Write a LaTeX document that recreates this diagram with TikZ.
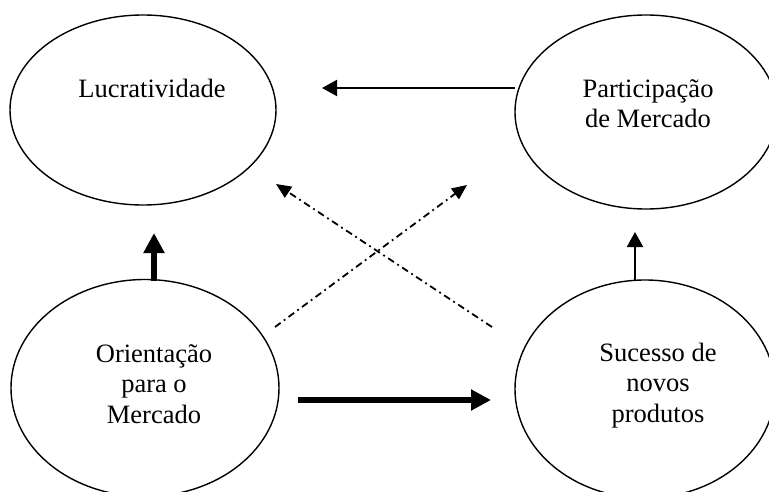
\documentclass[tikz,border=0pt]{standalone}
\usepackage{fontspec}
\setmainfont{Liberation Serif}
\usetikzlibrary{arrows.meta,shapes.geometric}

\begin{document}
\begin{tikzpicture}[x=1pt,y=-1pt,
  bubble/.style={draw, ellipse, line width=1.4pt, inner sep=0pt},
  label/.style={font=\fontsize{26.5}{30.5}\selectfont, align=center, anchor=base, inner sep=0pt},
  thin/.style={line width=2pt, -{Triangle[length=15pt,width=16pt]}},
  thick/.style={line width=6pt, -{Triangle[length=20pt,width=20pt]}},
  dotdash/.style={line width=1.8pt, dash pattern=on 7pt off 4pt on 1.8pt off 4pt,
                  -{Triangle[length=15pt,width=13pt]}}
]
\useasboundingbox (0,0) rectangle (769,492);
\clip (0,0) rectangle (769,492);

% the four constructs
\node[bubble, minimum width=266pt, minimum height=190pt] (lucro) at (143,110) {};
\node[bubble, minimum width=262pt, minimum height=194pt] (part)  at (646,112) {};
\node[bubble, minimum width=268pt, minimum height=217pt] (orient) at (145,388) {};
\node[bubble, minimum width=260pt, minimum height=218pt] (suc)   at (645,389) {};

% labels, placed by the baseline of their last line
\node[label] (lucroT)  at (152,98)  {Lucratividade};
\node[label] (partT)   at (648,128) {Participação\\de Mercado};
\node[label] (orientT) at (154,423) {Orientação\\para o\\Mercado};
\node[label] (sucT)    at (658,422) {Sucesso de\\novos\\produtos};

% arrow end points
\coordinate (partOut)   at (515,88);
\coordinate (lucroIn)   at (322,88);
\coordinate (orientTop) at (154,281);
\coordinate (lucroBot)  at (154,233);
\coordinate (sucTop)    at (635,281);
\coordinate (partBot)   at (635,232);
\coordinate (orientOut) at (298,400);
\coordinate (sucIn)     at (491,400);
\coordinate (crossA)    at (275,327);
\coordinate (crossAEnd) at (467,185);
\coordinate (crossB)    at (492,327);
\coordinate (crossBEnd) at (276,184);

% relations
\draw[thin]  (partOut) -- (lucroIn);
\draw[thick] (orientTop) -- (lucroBot);
\draw[thin]  (sucTop) -- (partBot);
\draw[thick] (orientOut) -- (sucIn);
\draw[dotdash] (crossA) -- (crossAEnd);
\draw[dotdash] (crossB) -- (crossBEnd);
\end{tikzpicture}
\end{document}
